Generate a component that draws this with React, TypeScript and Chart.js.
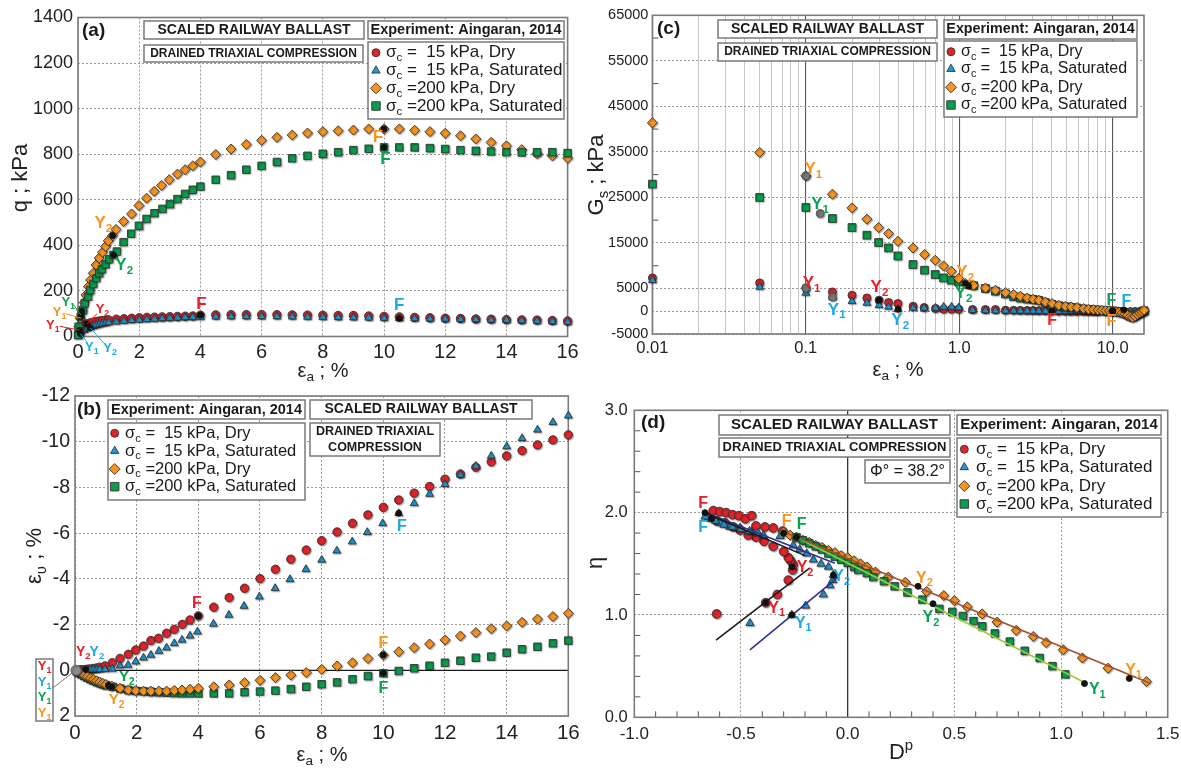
import React, { useEffect, useRef } from 'react';
import { Chart, registerables } from 'chart.js';

Chart.register(...registerables);

const FONT = "'Liberation Sans', Arial, Helvetica, sans-serif";
const GRID = '#9a9a9a';
const RED = '#e42229';
const BLUE = '#1d9bd8';
const ORANGE = '#f7931e';
const GREEN = '#089c4c';
const T_RED = '#ed1c24';
const T_BLUE = '#1ca9e2';
const T_ORANGE = '#f7941d';
const T_GREEN = '#05a54f';

const SERIES_LABELS = [
  'σ_c =  15 kPa, Dry',
  'σ_c =  15 kPa, Saturated',
  'σ_c =200 kPa, Dry',
  'σ_c =200 kPa, Saturated',
];

// ---------------- (a) q vs axial strain ----------------
const A_X_LOW = [0.02, 0.05, 0.1, 0.2, 0.3, 0.4, 0.5, 0.6, 0.7, 0.8, 0.9, 1.0, 1.25, 1.5, 1.75, 2.0, 2.25, 2.5, 2.75, 3.0, 3.25, 3.5, 3.75, 4.0, 4.5, 5, 5.5, 6, 6.5, 7, 7.5, 8, 8.5, 9, 9.5, 10, 10.5, 11, 11.5, 12, 12.5, 13, 13.5, 14, 14.5, 15, 15.5, 16];
const A_Q_RED = [15, 30, 40, 50, 55, 60, 63, 66, 68, 70, 72, 73, 76, 78, 80, 82, 84, 85, 86, 87, 88, 89, 90, 94, 95, 96, 96, 96, 96, 95, 94, 93, 92, 92, 90, 88, 86, 84, 82, 80, 79, 77, 76, 74, 73, 72, 70, 68];
const A_Q_BLUE = [5, 12, 20, 28, 35, 40, 45, 49, 53, 56, 59, 61, 65, 68, 71, 73, 75, 77, 79, 81, 82, 84, 85, 86, 87, 88, 88, 88, 88, 87, 86, 85, 84, 83, 82, 81, 80, 79, 78, 77, 76, 75, 73, 72, 70, 68, 66, 64];
const A_X_ORANGE = [0.03, 0.07, 0.12, 0.2, 0.26, 0.34, 0.41, 0.5, 0.59, 0.69, 0.8, 0.9, 0.99, 1.13, 1.24, 1.49, 1.75, 1.99, 2.24, 2.49, 2.73, 2.98, 3.25, 3.5, 3.75, 4.0, 4.5, 5, 5.5, 6, 6.5, 7, 7.5, 8, 8.5, 9, 9.5, 10, 10.5, 11, 11.5, 12, 12.5, 13, 13.5, 14, 14.5, 15, 15.5, 16];
const A_Q_ORANGE = [43, 80, 116, 149, 182, 219, 248, 278, 314, 344, 370, 395, 420, 443, 470, 505, 538, 575, 607, 637, 663, 688, 713, 732, 749, 766, 799, 823, 843, 861, 874, 884, 893, 899, 903, 906, 911, 911, 911, 905, 899, 892, 881, 867, 852, 837, 820, 802, 793, 783];
const A_X_GREEN = [0, 0.02, 0.09, 0.16, 0.22, 0.33, 0.4, 0.5, 0.6, 0.69, 0.78, 0.9, 1.02, 1.16, 1.27, 1.49, 1.74, 1.99, 2.24, 2.5, 2.76, 3.0, 3.25, 3.5, 3.75, 4.0, 4.5, 5, 5.5, 6, 6.5, 7, 7.5, 8, 8.5, 9, 9.5, 10, 10.5, 11, 11.5, 12, 12.5, 13, 13.5, 14, 14.5, 15, 15.5, 16];
const A_Q_GREEN = [7, 43, 87, 116, 146, 175, 204, 231, 256, 278, 295, 317, 339, 358, 373, 414, 451, 486, 516, 541, 560, 581, 603, 626, 644, 658, 688, 708, 732, 749, 766, 782, 793, 802, 809, 818, 824, 830, 830, 830, 827, 823, 818, 815, 812, 809, 808, 809, 809, 805];
const A_KEY_X = [0.05, 0.3, 0.08, 0.4, 0.12, 1.13, 0.09, 1.16, 4.0, 10.5, 10.0, 10.0];
const A_KEY_Y = [28, 55, 12, 38, 110, 443, 87, 358, 94, 80, 911, 830];

// ---------------- (b) volumetric strain ----------------
const B_X_RED = [0.1, 0.2, 0.3, 0.4, 0.5, 0.6, 0.7, 0.8, 0.97, 1.21, 1.46, 1.73, 1.97, 2.22, 2.46, 2.71, 2.97, 3.22, 3.48, 3.73, 4.0, 4.5, 5, 5.5, 6, 6.5, 7, 7.5, 8, 8.5, 9, 9.5, 10, 10.5, 11, 11.5, 12, 12.5, 13, 13.5, 14, 14.5, 15, 15.5, 16];
const B_EV_RED = [-0.01, -0.02, -0.03, -0.05, -0.06, -0.08, -0.1, -0.13, -0.19, -0.33, -0.52, -0.7, -0.89, -1.06, -1.3, -1.4, -1.62, -1.79, -2.01, -2.2, -2.38, -2.76, -3.18, -3.59, -4.01, -4.42, -4.86, -5.26, -5.67, -6.05, -6.43, -6.8, -7.13, -7.45, -7.75, -8.04, -8.36, -8.59, -8.88, -9.12, -9.38, -9.61, -9.86, -10.08, -10.3];
const B_X_BLUE = [0.1, 0.2, 0.3, 0.4, 0.5, 0.6, 0.7, 0.8, 0.97, 1.21, 1.46, 1.72, 1.97, 2.22, 2.46, 2.72, 2.97, 3.22, 3.47, 3.73, 3.97, 4.49, 4.99, 5.48, 5.98, 6.49, 6.97, 7.49, 8.0, 8.49, 8.99, 9.48, 9.98, 10.5, 11, 11.5, 12, 12.5, 13, 13.5, 14, 14.5, 15, 15.5, 16];
const B_EV_BLUE = [0, -0.01, -0.01, -0.02, -0.02, -0.03, -0.03, -0.04, -0.04, -0.06, -0.2, -0.23, -0.38, -0.55, -0.67, -0.84, -0.99, -1.18, -1.33, -1.51, -1.69, -2.03, -2.42, -2.81, -3.22, -3.59, -3.98, -4.42, -4.83, -5.23, -5.63, -6.04, -6.43, -6.87, -7.31, -7.71, -8.14, -8.55, -8.94, -9.38, -9.79, -10.15, -10.52, -10.85, -11.14];
const B_X_ORANGE = [0.05, 0.1, 0.2, 0.3, 0.4, 0.5, 0.6, 0.7, 0.8, 0.9, 1.0, 1.19, 1.46, 1.73, 1.97, 2.22, 2.46, 2.72, 2.97, 3.22, 3.47, 3.73, 4.0, 4.5, 5, 5.5, 6, 6.5, 7, 7.5, 8, 8.5, 9, 9.5, 10, 10.5, 11, 11.5, 12, 12.5, 13, 13.5, 14, 14.5, 15, 15.5, 16];
const B_EV_ORANGE = [0.04, 0.08, 0.15, 0.22, 0.28, 0.34, 0.4, 0.46, 0.52, 0.57, 0.62, 0.69, 0.79, 0.86, 0.89, 0.91, 0.91, 0.91, 0.91, 0.88, 0.86, 0.83, 0.79, 0.72, 0.64, 0.54, 0.44, 0.32, 0.21, 0.1, -0.04, -0.19, -0.33, -0.52, -0.67, -0.81, -0.99, -1.15, -1.33, -1.5, -1.65, -1.82, -1.94, -2.1, -2.24, -2.35, -2.49];
const B_X_GREEN = [0.05, 0.1, 0.2, 0.3, 0.4, 0.5, 0.6, 0.7, 0.8, 0.9, 1.0, 1.22, 1.47, 1.72, 1.97, 2.22, 2.46, 2.72, 2.97, 3.22, 3.47, 3.73, 4.0, 4.5, 5, 5.5, 6, 6.5, 7, 7.5, 8, 8.5, 9, 9.5, 10, 10.5, 11, 11.5, 12, 12.5, 13, 13.5, 14, 14.5, 15, 15.5, 16];
const B_EV_GREEN = [0.04, 0.09, 0.17, 0.25, 0.32, 0.39, 0.45, 0.51, 0.56, 0.61, 0.65, 0.72, 0.8, 0.86, 0.9, 0.92, 0.94, 0.96, 0.98, 1.0, 1.01, 1.01, 1.01, 1.01, 1.01, 0.96, 0.93, 0.89, 0.82, 0.72, 0.61, 0.53, 0.39, 0.25, 0.13, 0.03, -0.09, -0.2, -0.33, -0.42, -0.55, -0.6, -0.77, -0.92, -1.03, -1.18, -1.3];
const B_KEY_X = [0.35, 1.08, 1.2, 4.0, 10.5, 10.0, 10.0];
const B_KEY_Y = [-0.03, 0.66, 0.72, -2.38, -6.87, -0.67, 0.13];
const B_Y1_X = [0.03];
const B_Y1_Y = [0.0];

// ---------------- (c) secant shear modulus ----------------
const C_X_ORANGE = [0.01, 0.05, 0.1, 0.149, 0.2, 0.25, 0.298, 0.346, 0.398, 0.499, 0.594, 0.697, 0.79, 0.887, 0.99, 1.094, 1.24, 1.48, 1.72, 2.0, 2.26, 2.5, 2.77, 3.03, 3.3, 3.64, 4.03, 4.45, 4.92, 5.36, 5.85, 6.46, 6.96, 7.5, 8, 8.5, 9, 9.5, 10, 10.5, 11, 11.5, 12, 12.5, 13, 13.5, 14, 14.5, 15, 15.5, 16];
const C_G_ORANGE = [41385, 34880, 29740, 25710, 22700, 20220, 18390, 17070, 15380, 13910, 12460, 11210, 9960, 8790, 7180, 6090, 5710, 5120, 4620, 4110, 3670, 3300, 2920, 2640, 2420, 2040, 1690, 1320, 1100, 950, 810, 590, 440, 350, 250, 200, 150, 100, 0, -100, -200, -400, -600, -900, -1200, -1400, -1100, -700, -400, -100, 200];
const C_X_GREEN = [0.01, 0.05, 0.1, 0.149, 0.2, 0.25, 0.298, 0.346, 0.398, 0.499, 0.594, 0.697, 0.79, 0.887, 0.99, 1.24, 1.48, 1.72, 2.0, 2.26, 2.5, 2.77, 3.03, 3.3, 3.64, 4.03, 4.45, 4.92, 5.36, 5.85, 6.46, 6.96, 7.5, 8, 8.5, 9, 9.5, 10, 10.5, 11, 11.5, 12, 12.5, 13, 13.5, 14, 14.5, 15, 15.5, 16];
const C_G_GREEN = [27910, 24990, 22790, 20370, 18390, 16700, 15100, 13910, 12150, 10260, 9010, 8070, 7320, 6810, 6440, 5600, 5000, 4400, 3800, 3200, 2900, 2700, 2600, 2400, 1900, 1500, 1200, 1000, 850, 700, 500, 400, 300, 250, 200, 150, 100, 50, 0, -100, -300, -500, -800, -1100, -1300, -1000, -700, -400, -200, 100];
const C_X_LOW = [0.01, 0.05, 0.1, 0.149, 0.2, 0.25, 0.3, 0.346, 0.398, 0.5, 0.59, 0.7, 0.79, 0.89, 0.99, 1.22, 1.48, 1.72, 2.0, 2.26, 2.5, 2.77, 3.03, 3.3, 3.64, 4.03, 4.45, 4.92, 5.36, 5.85, 6.46, 6.96, 7.5, 8, 9, 10, 11, 12, 13, 14, 15, 16];
const C_G_RED = [7320, 6220, 5120, 4240, 3520, 2920, 2420, 1910, 1690, 1100, 810, 590, 440, 440, 440, 370, 370, 370, 220, 200, 180, 160, 150, 120, 80, 0, -20, -30, -40, -50, -60, -70, -80, -80, -90, -100, -100, -100, -90, -80, -70, -60];
const C_G_BLUE = [6810, 5340, 4020, 3140, 2200, 1820, 1320, 950, 440, 730, 730, 730, 950, 950, 800, 220, 150, 120, 100, 90, 80, 70, 60, 50, 40, 30, 20, 10, 0, -10, -20, -30, -40, -50, -60, -70, -80, -80, -70, -60, -50, -40];
const C_KEY_X = [0.3, 0.4, 1.094, 1.15, 4.03, 10, 10, 11.8];
const C_KEY_Y = [2420, 440, 6090, 5490, 0, 0, 100, 300];
const C_Y1_X = [0.1, 0.124, 0.1, 0.149];
const C_Y1_Y = [29740, 21470, 5120, 3140];
const C_XGRID = [0.01, 0.02, 0.03, 0.04, 0.05, 0.06, 0.07, 0.08, 0.09, 0.1, 0.2, 0.3, 0.4, 0.5, 0.6, 0.7, 0.8, 0.9, 1, 2, 3, 4, 5, 6, 7, 8, 9, 10];
const C_XLABELS = { '0.01': '0.01', '0.1': '0.1', '1': '1.0', '10': '10.0' };
const C_DECADES = [0.01, 0.1, 1, 10];
const C_YTICKS = [-5000, 0, 5000, 15000, 25000, 35000, 45000, 55000, 65000];
const C_YMINOR = [10000, 20000, 30000, 40000, 50000, 60000];

// ---------------- (d) stress-dilatancy ----------------
const D_X_RED = [-0.614, -0.384, -0.33, -0.278, -0.258, -0.255, -0.267, -0.278, -0.3, -0.349, -0.392, -0.43, -0.466, -0.505, -0.536, -0.575, -0.614, -0.653, -0.63, -0.6, -0.57, -0.54, -0.51, -0.48, -0.45, -0.43, -0.388, -0.349, -0.305];
const D_ETA_RED = [1.01, 1.12, 1.2, 1.34, 1.44, 1.49, 1.53, 1.56, 1.62, 1.67, 1.72, 1.76, 1.78, 1.83, 1.86, 1.9, 1.92, 1.96, 2.02, 2.01, 2.0, 1.98, 1.97, 1.94, 1.97, 1.87, 1.86, 1.85, 1.82];
const D_X_BLUE = [-0.458, -0.262, -0.197, -0.114, -0.083, -0.07, -0.067, -0.09, -0.125, -0.161, -0.192, -0.225, -0.255, -0.317, -0.395, -0.45, -0.505, -0.552, -0.598, -0.637, -0.669, -0.62, -0.58, -0.54, -0.5, -0.46, -0.42];
const D_ETA_BLUE = [0.92, 1.0, 1.09, 1.2, 1.29, 1.34, 1.39, 1.47, 1.5, 1.54, 1.6, 1.64, 1.68, 1.77, 1.78, 1.81, 1.85, 1.86, 1.9, 1.94, 1.96, 1.92, 1.88, 1.86, 1.84, 1.82, 1.8];
const D_X_ORANGE = [-0.3, -0.27, -0.24, -0.21, -0.18, -0.15, -0.12, -0.09, -0.06, -0.03, 0.0, 0.03, 0.06, 0.09, 0.13, 0.19, 0.27, 0.37, 0.45, 0.5, 0.56, 0.63, 0.7, 0.79, 0.87, 0.93, 1.01, 1.1, 1.22, 1.4];
const D_ETA_ORANGE = [1.81, 1.78, 1.76, 1.73, 1.71, 1.68, 1.66, 1.63, 1.61, 1.58, 1.56, 1.53, 1.5, 1.47, 1.42, 1.37, 1.32, 1.23, 1.19, 1.14, 1.08, 1.01, 0.93, 0.85, 0.79, 0.73, 0.66, 0.58, 0.48, 0.35];
const D_X_GREEN = [-0.24, -0.21, -0.18, -0.15, -0.12, -0.09, -0.06, -0.03, 0.0, 0.03, 0.05, 0.09, 0.12, 0.17, 0.22, 0.28, 0.35, 0.43, 0.49, 0.54, 0.59, 0.63, 0.69, 0.76, 0.83, 0.9, 0.96, 1.02];
const D_ETA_GREEN = [1.76, 1.73, 1.7, 1.67, 1.64, 1.6, 1.57, 1.54, 1.51, 1.47, 1.44, 1.41, 1.37, 1.33, 1.28, 1.22, 1.15, 1.06, 1.03, 0.99, 0.94, 0.89, 0.82, 0.74, 0.65, 0.58, 0.5, 0.42];
const D_KEY_X = [-0.384, -0.26, -0.669, -0.262, -0.067, -0.637, 1.32, 0.33, -0.3, 1.11, 0.4, -0.24];
const D_KEY_Y = [1.12, 1.47, 2.0, 1.0, 1.39, 1.94, 0.38, 1.28, 1.8, 0.33, 1.11, 1.76];
const D_FIT_BLACK_LO_X = [-0.617, -0.177];
const D_FIT_BLACK_LO_Y = [0.755, 1.46];
const D_FIT_NAVY_LO_X = [-0.458, -0.045];
const D_FIT_NAVY_LO_Y = [0.66, 1.37];
const D_FIT_BLACK_UP_X = [-0.66, -0.2];
const D_FIT_BLACK_UP_Y = [1.99, 1.58];
const D_FIT_NAVY_UP_X = [-0.653, -0.06];
const D_FIT_NAVY_UP_Y = [1.99, 1.505];
const D_FIT_BROWN_X = [-0.3, 1.42];
const D_FIT_BROWN_Y = [1.81, 0.33];
const D_FIT_LIME_X = [-0.24, 1.12];
const D_FIT_LIME_Y = [1.76, 0.33];
const D_XMINOR = [-0.9, -0.8, -0.7, -0.6, -0.4, -0.3, -0.2, -0.1, 0.1, 0.2, 0.3, 0.4, 0.6, 0.7, 0.8, 0.9, 1.1, 1.2, 1.3, 1.4];
const D_YMINOR = [0.2, 0.4, 0.6, 0.8, 1.2, 1.4, 1.6, 1.8, 2.2, 2.4, 2.6, 2.8];

// ---------------- helpers ----------------
const LEGEND_MARKS = [
  ['circle', RED, 4],
  ['triangle', BLUE, 4.8],
  ['rectRot', ORANGE, 5.5],
  ['rect', GREEN, 6],
];

function pts(xs, ys) {
  return xs.map((x, i) => ({ x, y: ys[i] }));
}

function sc(label, xs, ys, style, color, r, order, border = '#333', shadow = true) {
  return {
    label,
    data: pts(xs, ys),
    pointStyle: style,
    pointRadius: r,
    pointHoverRadius: r,
    backgroundColor: color,
    borderColor: border,
    borderWidth: 0.9,
    showLine: false,
    clip: false,
    order,
    shadow,
  };
}

function fit(xs, ys, color, order) {
  return {
    label: '',
    data: pts(xs, ys),
    showLine: true,
    pointRadius: 0,
    pointHoverRadius: 0,
    borderColor: color,
    backgroundColor: color,
    borderWidth: 1.6,
    clip: false,
    order,
    shadow: false,
  };
}

function parseRich(s) {
  const segs = [];
  let cur = '';
  let i = 0;
  while (i < s.length) {
    const c = s[i];
    if (c === '_' || c === '^') {
      if (cur) segs.push({ t: cur });
      cur = '';
      segs.push({ t: s[i + 1], sub: c === '_', sup: c === '^' });
      i += 2;
    } else {
      cur += c;
      i += 1;
    }
  }
  if (cur) segs.push({ t: cur });
  return segs;
}

function drawRich(ctx, s, x, y, size, color, align = 'center', bold = false) {
  const segs = parseRich(s);
  const wt = bold ? 'bold ' : '';
  const small = size * 0.68;
  const widths = segs.map((g) => {
    ctx.font = `${wt}${g.sub || g.sup ? small : size}px ${FONT}`;
    return ctx.measureText(g.t).width;
  });
  const total = widths.reduce((p, q) => p + q, 0);
  let cx = align === 'center' ? x - total / 2 : align === 'right' ? x - total : x;
  ctx.save();
  ctx.fillStyle = color;
  ctx.textAlign = 'left';
  ctx.textBaseline = 'middle';
  segs.forEach((g, i) => {
    ctx.font = `${wt}${g.sub || g.sup ? small : size}px ${FONT}`;
    const dy = g.sub ? size * 0.32 : g.sup ? -size * 0.32 : 0;
    ctx.fillText(g.t, cx, y + dy);
    cx += widths[i];
  });
  ctx.restore();
}

function drawMarker(ctx, style, color, r, x, y) {
  ctx.save();
  ctx.fillStyle = color;
  ctx.strokeStyle = '#333';
  ctx.lineWidth = 0.9;
  ctx.beginPath();
  if (style === 'circle') ctx.arc(x, y, r, 0, Math.PI * 2);
  else if (style === 'triangle') {
    ctx.moveTo(x, y - r);
    ctx.lineTo(x + r * 0.866, y + r * 0.5);
    ctx.lineTo(x - r * 0.866, y + r * 0.5);
    ctx.closePath();
  } else if (style === 'rectRot') {
    ctx.moveTo(x, y - r);
    ctx.lineTo(x + r, y);
    ctx.lineTo(x, y + r);
    ctx.lineTo(x - r, y);
    ctx.closePath();
  } else {
    const h = r * 0.7071;
    ctx.rect(x - h, y - h, 2 * h, 2 * h);
  }
  ctx.fill();
  ctx.stroke();
  ctx.restore();
}

function drawBox(ctx, x, y, w, h) {
  ctx.save();
  ctx.fillStyle = '#fff';
  ctx.fillRect(x, y, w, h);
  ctx.strokeStyle = '#7a7a7a';
  ctx.lineWidth = 1.5;
  ctx.strokeRect(x, y, w, h);
  ctx.restore();
}

function seg(ctx, x1, y1, x2, y2, c, w) {
  ctx.save();
  ctx.strokeStyle = c;
  ctx.lineWidth = w;
  ctx.beginPath();
  ctx.moveTo(x1, y1);
  ctx.lineTo(x2, y2);
  ctx.stroke();
  ctx.restore();
}

function linAxis(min, max, step, size, pad, fmt, extra = {}) {
  return {
    type: 'linear',
    min,
    max,
    ticks: {
      stepSize: step,
      padding: pad,
      color: '#222',
      font: { family: FONT, size },
      callback: fmt,
      autoSkip: false,
      maxRotation: 0,
    },
    grid: { color: GRID, lineWidth: 1, drawTicks: false },
    border: { display: false, dash: [2, 2] },
    ...extra,
  };
}

const hideAt = (v) => (c) => (c.tick && Math.abs(c.tick.value - v) < 1e-9 ? 'rgba(0,0,0,0)' : GRID);

// ---------------- panels ----------------
const PANEL_A = {
  id: 'a', x: 0, y: 0, w: 590, h: 384,
  area: { l: 78, t: 17.5, r: 567.6, b: 336.5 },
  xs: linAxis(0, 16, 2, 20, 4, (v) => String(v)),
  ys: linAxis(0, 1400, 200, 18, 5, (v) => String(v)),
  datasets: [
    sc('a-key', A_KEY_X, A_KEY_Y, 'circle', '#111', 3, 0, '#111', false),
    sc(SERIES_LABELS[3], A_X_GREEN, A_Q_GREEN, 'rect', GREEN, 5.3, 2),
    sc(SERIES_LABELS[2], A_X_ORANGE, A_Q_ORANGE, 'rectRot', ORANGE, 5, 3),
    sc(SERIES_LABELS[1], A_X_LOW, A_Q_BLUE, 'triangle', BLUE, 4.5, 4),
    sc(SERIES_LABELS[0], A_X_LOW, A_Q_RED, 'circle', RED, 4.2, 5),
  ],
  leaders: [
    { x1: -0.15, y1: 140, x2: 0.09, y2: 95, c: T_GREEN },
    { x1: -0.4, y1: 100, x2: 0.1, y2: 80, c: T_ORANGE },
    { x1: -0.6, y1: 45, x2: 0.05, y2: 28, c: T_RED },
    { x1: 0.62, y1: 100, x2: 0.3, y2: 55, c: T_RED },
    { x1: 0.3, y1: -25, x2: 0.08, y2: 12, c: T_BLUE },
    { x1: 0.85, y1: -30, x2: 0.4, y2: 38, c: T_BLUE },
  ],
  labels: [
    { t: 'Y_2', x: 0.83, y: 498, c: T_ORANGE, s: 17 },
    { t: 'Y_2', x: 1.51, y: 314, c: T_GREEN, s: 17 },
    { t: 'F', x: 4.03, y: 143, c: T_RED, s: 17 },
    { t: 'F', x: 10.5, y: 138, c: T_BLUE, s: 17 },
    { t: 'F', x: 9.8, y: 872, c: T_ORANGE, s: 17 },
    { t: 'F', x: 10.05, y: 776, c: T_GREEN, s: 17 },
    { t: 'Y_1', x: -0.32, y: 150, c: T_GREEN, s: 13 },
    { t: 'Y_1', x: -0.6, y: 106, c: T_ORANGE, s: 13 },
    { t: 'Y_1', x: -0.82, y: 50, c: T_RED, s: 13 },
    { t: 'Y_2', x: 0.8, y: 118, c: T_RED, s: 13 },
    { t: 'Y_1', x: 0.45, y: -48, c: T_BLUE, s: 13 },
    { t: 'Y_2', x: 1.05, y: -52, c: T_BLUE, s: 13 },
  ],
  boxes: [
    { x: 144, y: 21, w: 220, h: 18, lines: [{ t: 'SCALED RAILWAY BALLAST', s: 14, b: true }] },
    { x: 144, y: 45, w: 219, h: 17, lines: [{ t: 'DRAINED TRIAXIAL COMPRESSION', s: 12, b: true }] },
    { x: 368, y: 21, w: 196, h: 18, lines: [{ t: 'Experiment: Aingaran, 2014', s: 14.5, b: true }] },
  ],
  legend: { x: 368, y: 42, w: 196, h: 77, rows: [52.7, 70.7, 88.3, 106], mx: 376, tx: 386, s: 17 },
  letter: { t: '(a)', x: 82, y: 31 },
  xTitle: { t: 'ε_a ; %', x: 323, y: 371, s: 20 },
  yTitle: { t: 'q ; kPa', x: 21, y: 178, s: 22 },
};

const PANEL_B = {
  id: 'b', x: 0, y: 384, w: 590, h: 384,
  area: { l: 75, t: 396, r: 568.3, b: 716 },
  xs: linAxis(0, 16, 2, 20.5, 5, (v) => String(v)),
  ys: linAxis(-12, 2, 2, 19.5, 5, (v) => String(v), {
    reverse: true,
    grid: { color: hideAt(0), lineWidth: 1, drawTicks: false },
  }),
  zeroY: 0,
  datasets: [
    sc('b-key', B_KEY_X, B_KEY_Y, 'circle', '#111', 3, 0, '#111', false),
    sc('b-y1', B_Y1_X, B_Y1_Y, 'circle', '#8a8a8a', 5, 1, '#666'),
    sc(SERIES_LABELS[3], B_X_GREEN, B_EV_GREEN, 'rect', GREEN, 5.3, 3),
    sc(SERIES_LABELS[2], B_X_ORANGE, B_EV_ORANGE, 'rectRot', ORANGE, 5, 2),
    sc(SERIES_LABELS[1], B_X_BLUE, B_EV_BLUE, 'triangle', BLUE, 4.5, 4),
    sc(SERIES_LABELS[0], B_X_RED, B_EV_RED, 'circle', RED, 4.2, 5),
  ],
  leaders: [{ x1: -0.71, y1: 0.77, x2: 0.02, y2: 0.0, c: '#777' }],
  labels: [
    { t: 'Y_2', x: 0.27, y: -0.81, c: T_RED, s: 14 },
    { t: 'Y_2', x: 0.71, y: -0.81, c: T_BLUE, s: 14 },
    { t: 'Y_2', x: 1.68, y: 0.3, c: T_GREEN, s: 15 },
    { t: 'Y_2', x: 1.35, y: 1.3, c: T_ORANGE, s: 15 },
    { t: 'F', x: 3.95, y: -2.93, c: T_RED, s: 16 },
    { t: 'F', x: 10.6, y: -6.28, c: T_BLUE, s: 16 },
    { t: 'F', x: 10.0, y: -1.18, c: T_ORANGE, s: 16 },
    { t: 'F', x: 10.0, y: 0.79, c: T_GREEN, s: 16 },
  ],
  boxes: [
    { x: 108, y: 400, w: 197, h: 19, lines: [{ t: 'Experiment: Aingaran, 2014', s: 14.5, b: true }] },
    { x: 310, y: 400, w: 222, h: 19, lines: [{ t: 'SCALED RAILWAY BALLAST', s: 14, b: true }] },
    { x: 310, y: 423, w: 130, h: 33, lines: [{ t: 'DRAINED TRIAXIAL', s: 12.5, b: true }, { t: 'COMPRESSION', s: 12.5, b: true }] },
    {
      x: 36, y: 659, w: 17, h: 62,
      lines: [
        { t: 'Y_1', s: 13, c: T_RED, b: true },
        { t: 'Y_1', s: 13, c: T_BLUE, b: true },
        { t: 'Y_1', s: 13, c: T_GREEN, b: true },
        { t: 'Y_1', s: 13, c: T_ORANGE, b: true },
      ],
    },
  ],
  legend: { x: 108, y: 423, w: 197, h: 77, rows: [433.3, 451, 469, 486.7], mx: 114.7, tx: 125, s: 16.5 },
  letter: { t: '(b)', x: 77, y: 410 },
  xTitle: { t: 'ε_a ; %', x: 322, y: 755, s: 20 },
  yTitle: { t: 'ε_υ ; %', x: 35, y: 556, s: 22 },
};

const PANEL_C = {
  id: 'c', x: 575, y: 0, w: 606, h: 384,
  area: { l: 652.4, t: 15.3, r: 1144, b: 334 },
  xs: {
    type: 'logarithmic',
    min: 0.01,
    max: 16,
    afterBuildTicks: (s) => {
      s.ticks = C_XGRID.map((v) => ({ value: v }));
    },
    ticks: {
      padding: 5,
      color: '#222',
      font: { family: FONT, size: 16.5 },
      autoSkip: false,
      maxRotation: 0,
      callback: (v) => C_XLABELS[String(v)] || '',
    },
    grid: {
      color: (c) => (c.tick && C_DECADES.includes(c.tick.value) ? '#5a5a5a' : '#b8b8b8'),
      lineWidth: (c) => (c.tick && C_DECADES.includes(c.tick.value) ? 1.1 : 0.8),
      drawTicks: false,
    },
    border: { display: false, dash: [] },
  },
  ys: linAxis(-5000, 65000, 10000, 14.5, 4, (v) => String(v), {
    afterBuildTicks: (s) => {
      s.ticks = C_YTICKS.map((v) => ({ value: v }));
    },
  }),
  minorY: C_YMINOR,
  datasets: [
    sc('c-key', C_KEY_X, C_KEY_Y, 'circle', '#111', 3, 0, '#111', false),
    sc('c-y1', C_Y1_X, C_Y1_Y, 'circle', '#777', 4, 1, '#555'),
    sc(SERIES_LABELS[2], C_X_ORANGE, C_G_ORANGE, 'rectRot', ORANGE, 5, 2),
    sc(SERIES_LABELS[3], C_X_GREEN, C_G_GREEN, 'rect', GREEN, 5.5, 3),
    sc(SERIES_LABELS[1], C_X_LOW, C_G_BLUE, 'triangle', BLUE, 4.5, 4),
    sc(SERIES_LABELS[0], C_X_LOW, C_G_RED, 'circle', RED, 4, 5),
  ],
  labels: [
    { t: 'Y_1', x: 0.112, y: 31140, c: T_ORANGE, s: 17 },
    { t: 'Y_1', x: 0.124, y: 23450, c: T_GREEN, s: 17 },
    { t: 'Y_1', x: 0.109, y: 6220, c: T_RED, s: 17 },
    { t: 'Y_1', x: 0.159, y: 300, c: T_BLUE, s: 17 },
    { t: 'Y_2', x: 0.302, y: 5340, c: T_RED, s: 17 },
    { t: 'Y_2', x: 0.412, y: -1900, c: T_BLUE, s: 17 },
    { t: 'Y_2', x: 1.094, y: 8640, c: T_ORANGE, s: 17 },
    { t: 'Y_2', x: 1.067, y: 3890, c: T_GREEN, s: 17 },
    { t: 'F', x: 4.03, y: -1980, c: T_RED, s: 16 },
    { t: 'F', x: 9.8, y: 2420, c: T_GREEN, s: 16 },
    { t: 'F', x: 12.3, y: 2040, c: T_BLUE, s: 16 },
    { t: 'F', x: 9.8, y: -2350, c: T_ORANGE, s: 16 },
  ],
  boxes: [
    { x: 718, y: 20, w: 219, h: 18, lines: [{ t: 'SCALED RAILWAY BALLAST', s: 14, b: true }] },
    { x: 718, y: 43, w: 219, h: 18, lines: [{ t: 'DRAINED TRIAXIAL COMPRESSION', s: 12, b: true }] },
    { x: 944, y: 20, w: 193, h: 19, lines: [{ t: 'Experiment: Aingaran, 2014', s: 14.3, b: true }] },
  ],
  legend: { x: 944, y: 41, w: 193, h: 76, rows: [51.7, 69, 87.3, 105], mx: 951, tx: 961, s: 16 },
  letter: { t: '(c)', x: 657, y: 29 },
  xTitle: { t: 'ε_a ; %', x: 898, y: 370, s: 20 },
  yTitle: { t: 'G_s ; kPa', x: 597, y: 175, s: 22 },
};

const PANEL_D = {
  id: 'd', x: 575, y: 384, w: 606, h: 384,
  area: { l: 634.3, t: 410.3, r: 1167.7, b: 717.3 },
  xs: linAxis(-1, 1.5, 0.5, 17, 7, (v) => Number(v).toFixed(1), {
    grid: { color: hideAt(0), lineWidth: 1, drawTicks: false },
  }),
  ys: linAxis(0, 3, 1, 16.5, 6.5, (v) => Number(v).toFixed(1)),
  zeroX: 0,
  minorX: D_XMINOR,
  minorY: D_YMINOR,
  datasets: [
    sc('d-key', D_KEY_X, D_KEY_Y, 'circle', '#111', 3, 0, '#111', false),
    fit(D_FIT_BLACK_LO_X, D_FIT_BLACK_LO_Y, '#1a1a1a', 1),
    fit(D_FIT_NAVY_LO_X, D_FIT_NAVY_LO_Y, '#2e3192', 1),
    fit(D_FIT_BLACK_UP_X, D_FIT_BLACK_UP_Y, '#1a1a1a', 1),
    fit(D_FIT_NAVY_UP_X, D_FIT_NAVY_UP_Y, '#2e3192', 1),
    fit(D_FIT_BROWN_X, D_FIT_BROWN_Y, '#a3502b', 1),
    fit(D_FIT_LIME_X, D_FIT_LIME_Y, '#9ccb3b', 1),
    sc(SERIES_LABELS[3], D_X_GREEN, D_ETA_GREEN, 'rect', GREEN, 5.3, 2),
    sc(SERIES_LABELS[2], D_X_ORANGE, D_ETA_ORANGE, 'rectRot', ORANGE, 5, 3),
    sc(SERIES_LABELS[1], D_X_BLUE, D_ETA_BLUE, 'triangle', BLUE, 4.7, 4),
    sc(SERIES_LABELS[0], D_X_RED, D_ETA_RED, 'circle', RED, 4.4, 5),
  ],
  labels: [
    { t: 'F', x: -0.677, y: 2.09, c: T_RED, s: 16 },
    { t: 'F', x: -0.677, y: 1.85, c: T_BLUE, s: 16 },
    { t: 'F', x: -0.286, y: 1.91, c: T_ORANGE, s: 16 },
    { t: 'F', x: -0.216, y: 1.88, c: T_GREEN, s: 16 },
    { t: 'Y_1', x: -0.333, y: 1.065, c: T_RED, s: 16 },
    { t: 'Y_1', x: -0.208, y: 0.92, c: T_BLUE, s: 16 },
    { t: 'Y_2', x: -0.2, y: 1.46, c: T_RED, s: 16 },
    { t: 'Y_2', x: -0.028, y: 1.375, c: T_BLUE, s: 16 },
    { t: 'Y_2', x: 0.36, y: 1.36, c: T_ORANGE, s: 16 },
    { t: 'Y_2', x: 0.39, y: 0.97, c: T_GREEN, s: 16 },
    { t: 'Y_1', x: 1.34, y: 0.46, c: T_ORANGE, s: 16 },
    { t: 'Y_1', x: 1.17, y: 0.27, c: T_GREEN, s: 16 },
  ],
  boxes: [
    { x: 719, y: 415, w: 231, h: 20, lines: [{ t: 'SCALED RAILWAY BALLAST', s: 15, b: true }] },
    { x: 719, y: 438, w: 231, h: 19, lines: [{ t: 'DRAINED TRIAXIAL COMPRESSION', s: 13, b: true }] },
    { x: 865, y: 460, w: 85, h: 23, lines: [{ t: 'Φ° = 38.2°', s: 16 }] },
    { x: 957, y: 415, w: 204, h: 20, lines: [{ t: 'Experiment: Aingaran, 2014', s: 15, b: true }] },
  ],
  legend: { x: 957, y: 438, w: 204, h: 79, rows: [449.3, 467.3, 486, 504], mx: 964.3, tx: 976, s: 17 },
  letter: { t: '(d)', x: 641, y: 423 },
  xTitle: { t: 'D^p', x: 901, y: 753, s: 22 },
  yTitle: { t: 'η', x: 596, y: 563, s: 22 },
};

const PANELS = [PANEL_A, PANEL_C, PANEL_B, PANEL_D];

function makeDecor(cfg) {
  const ox = cfg.x;
  const oy = cfg.y;
  return {
    id: 'decor_' + cfg.id,
    beforeDatasetsDraw(chart) {
      const ctx = chart.ctx;
      const a = chart.chartArea;
      const sx = chart.scales.x;
      const sy = chart.scales.y;
      if (cfg.zeroY !== undefined) {
        const p = sy.getPixelForValue(cfg.zeroY);
        seg(ctx, a.left, p, a.right, p, '#1a1a1a', 1.3);
      }
      if (cfg.zeroX !== undefined) {
        const p = sx.getPixelForValue(cfg.zeroX);
        seg(ctx, p, a.top, p, a.bottom, '#333', 1.3);
      }
      (cfg.minorX || []).forEach((v) => {
        const p = sx.getPixelForValue(v);
        seg(ctx, p, a.bottom, p, a.bottom - 6, '#555', 1);
      });
      (cfg.minorY || []).forEach((v) => {
        const p = sy.getPixelForValue(v);
        seg(ctx, a.left, p, a.left + 6, p, '#555', 1);
      });
      ctx.save();
      ctx.strokeStyle = '#7b7b7b';
      ctx.lineWidth = 1.6;
      ctx.strokeRect(a.left, a.top, a.right - a.left, a.bottom - a.top);
      ctx.restore();
    },
    beforeDatasetDraw(chart, args) {
      const ds = chart.data.datasets[args.index];
      chart.ctx.save();
      if (ds && ds.shadow) {
        chart.ctx.shadowColor = 'rgba(0,0,0,0.35)';
        chart.ctx.shadowOffsetX = 1;
        chart.ctx.shadowOffsetY = 1;
        chart.ctx.shadowBlur = 1.5;
      }
    },
    afterDatasetDraw(chart) {
      chart.ctx.restore();
    },
    afterDatasetsDraw(chart) {
      const ctx = chart.ctx;
      const sx = chart.scales.x;
      const sy = chart.scales.y;
      (cfg.leaders || []).forEach((d) => {
        seg(ctx, sx.getPixelForValue(d.x1), sy.getPixelForValue(d.y1), sx.getPixelForValue(d.x2), sy.getPixelForValue(d.y2), d.c, 1);
      });
      (cfg.labels || []).forEach((d) => {
        drawRich(ctx, d.t, sx.getPixelForValue(d.x), sy.getPixelForValue(d.y), d.s, d.c, 'center', true);
      });
      (cfg.boxes || []).forEach((b) => {
        drawBox(ctx, b.x - ox, b.y - oy, b.w, b.h);
        b.lines.forEach((ln, i) => {
          drawRich(ctx, ln.t, b.x - ox + b.w / 2, b.y - oy + (b.h * (i + 0.5)) / b.lines.length, ln.s, ln.c || '#1a1a1a', 'center', !!ln.b);
        });
      });
      const lg = cfg.legend;
      drawBox(ctx, lg.x - ox, lg.y - oy, lg.w, lg.h);
      SERIES_LABELS.forEach((t, i) => {
        const y = lg.rows[i] - oy;
        const m = LEGEND_MARKS[i];
        drawMarker(ctx, m[0], m[1], m[2], lg.mx - ox, y);
        drawRich(ctx, t, lg.tx - ox, y, lg.s, '#1a1a1a', 'left');
      });
      drawRich(ctx, cfg.letter.t, cfg.letter.x - ox, cfg.letter.y - oy, 19, '#1a1a1a', 'left', true);
      drawRich(ctx, cfg.xTitle.t, cfg.xTitle.x - ox, cfg.xTitle.y - oy, cfg.xTitle.s, '#222', 'center');
      ctx.save();
      ctx.translate(cfg.yTitle.x - ox, cfg.yTitle.y - oy);
      ctx.rotate(-Math.PI / 2);
      drawRich(ctx, cfg.yTitle.t, 0, 0, cfg.yTitle.s, '#222', 'center');
      ctx.restore();
    },
  };
}

function buildConfig(cfg) {
  const XH = 30;
  const l = cfg.area.l - cfg.x;
  const t = cfg.area.t - cfg.y;
  const r = cfg.area.r - cfg.x;
  const b = cfg.area.b - cfg.y;
  const zeroPad = (s) => {
    s.paddingLeft = 0;
    s.paddingRight = 0;
    s.paddingTop = 0;
    s.paddingBottom = 0;
  };
  return {
    type: 'scatter',
    data: { datasets: cfg.datasets },
    options: {
      responsive: false,
      animation: false,
      devicePixelRatio: 1,
      events: [],
      layout: { padding: { left: 0, top: t, right: cfg.w - r, bottom: cfg.h - b - XH } },
      plugins: { legend: { display: false }, tooltip: { enabled: false } },
      scales: {
        x: {
          ...cfg.xs,
          afterFit: (s) => {
            s.height = XH;
            zeroPad(s);
          },
        },
        y: {
          ...cfg.ys,
          afterFit: (s) => {
            s.width = l;
            zeroPad(s);
          },
        },
      },
    },
    plugins: [makeDecor(cfg)],
  };
}

function Panel({ cfg }) {
  const ref = useRef(null);
  useEffect(() => {
    const chart = new Chart(ref.current, buildConfig(cfg));
    return () => chart.destroy();
  }, [cfg]);
  return (
    <canvas
      ref={ref}
      width={cfg.w}
      height={cfg.h}
      style={{ position: 'absolute', left: cfg.x, top: cfg.y, width: cfg.w, height: cfg.h }}
    />
  );
}

export default function App() {
  return (
    <div style={{ position: 'absolute', left: 0, top: 0, width: 1181, height: 768, background: '#fff', overflow: 'hidden' }}>
      {PANELS.map((p) => (
        <Panel key={p.id} cfg={p} />
      ))}
    </div>
  );
}
